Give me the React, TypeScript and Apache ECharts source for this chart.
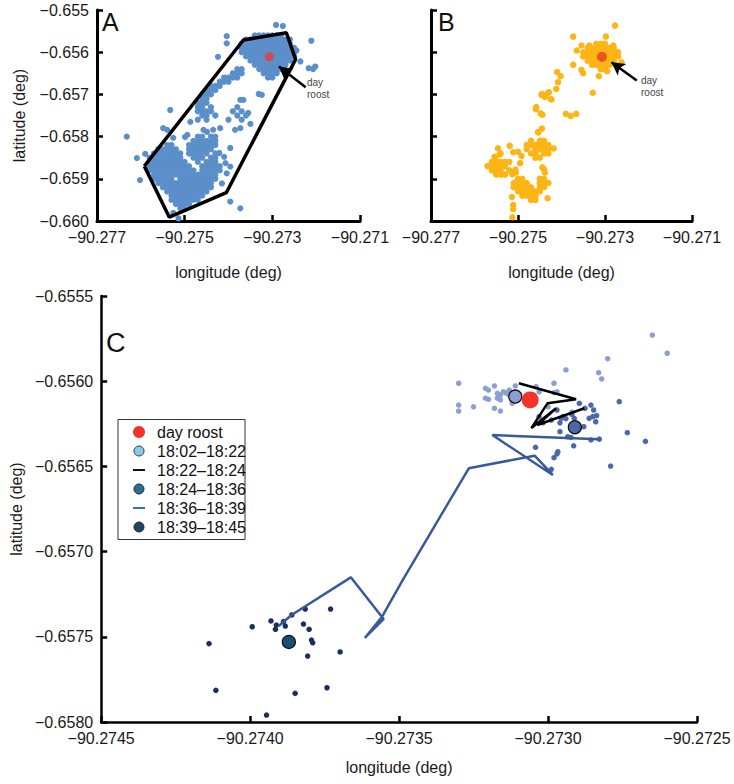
import React, { useEffect, useRef } from "react";
import * as echarts from "echarts";

const FONT = "'Liberation Sans', Arial, Helvetica, sans-serif";

// ---------- Panel A (all fixes) ----------
const aTopRows: [number, number[]][] = [
  [-0.6556, [-90.2734, -90.2733, -90.2732, -90.2731, -90.273, -90.2729, -90.2728]],
  [-0.6557, [-90.2736, -90.2735, -90.2734, -90.2733, -90.2732, -90.2731, -90.273, -90.2729, -90.2728, -90.2727, -90.2726]],
  [-0.6558, [-90.2737, -90.2736, -90.2735, -90.2734, -90.2733, -90.2732, -90.2731, -90.273, -90.2729, -90.2728, -90.2727, -90.2726]],
  [-0.6559, [-90.2737, -90.2736, -90.2735, -90.2734, -90.2733, -90.2732, -90.2731, -90.273, -90.2729, -90.2728, -90.2727, -90.2726, -90.2725]],
  [-0.656, [-90.2737, -90.2736, -90.2735, -90.2734, -90.2733, -90.2732, -90.2731, -90.273, -90.2729, -90.2728, -90.2727, -90.2726, -90.2725]],
  [-0.6561, [-90.2736, -90.2735, -90.2734, -90.2733, -90.2732, -90.2731, -90.273, -90.2729, -90.2728, -90.2727, -90.2726, -90.2725]],
  [-0.6562, [-90.2735, -90.2734, -90.2733, -90.2732, -90.2731, -90.273, -90.2729, -90.2728, -90.2727, -90.2726]],
  [-0.6563, [-90.2734, -90.2733, -90.2732, -90.2731, -90.273, -90.2729, -90.2728, -90.2727]],
  [-0.6564, [-90.2733, -90.2732, -90.2731, -90.273, -90.2729, -90.2728]],
  [-0.6565, [-90.2732, -90.2731, -90.273, -90.2729]],
  [-0.6566, [-90.2731, -90.273]],
];
const aBandRows: [number, number[]][] = [
  [-0.6564, [-90.2738, -90.2737]],
  [-0.6565, [-90.2739, -90.2738, -90.2737]],
  [-0.6566, [-90.2741, -90.274, -90.2739, -90.2738]],
  [-0.6567, [-90.2742, -90.2741, -90.274]],
  [-0.6568, [-90.2744, -90.2743, -90.2742]],
  [-0.6569, [-90.2745, -90.2744, -90.2743]],
  [-0.657, [-90.2746, -90.2745, -90.2744]],
  [-0.6571, [-90.2746, -90.2745]],
  [-0.6572, [-90.2747, -90.2746, -90.2745]],
  [-0.6573, [-90.2747, -90.2746, -90.2744]],
  [-0.6574, [-90.2747, -90.2746, -90.2745, -90.2744]],
  [-0.6575, [-90.2746, -90.2745, -90.2743]],
  [-0.6576, [-90.2747, -90.2745]],
];
const aLowRows: [number, number[]][] = [
  [-0.658, [-90.2747, -90.2746, -90.2744, -90.2743]],
  [-0.6581, [-90.2748, -90.2747, -90.2746, -90.2745, -90.2744, -90.2743]],
  [-0.6582, [-90.2754, -90.2753, -90.2749, -90.2748, -90.2747, -90.2746, -90.2745, -90.2744, -90.2743]],
  [-0.6583, [-90.2756, -90.2755, -90.2754, -90.2753, -90.2752, -90.2749, -90.2748, -90.2747, -90.2746, -90.2745, -90.2744]],
  [-0.6584, [-90.2757, -90.2756, -90.2755, -90.2754, -90.2753, -90.2752, -90.2751, -90.2749, -90.2748, -90.2747, -90.2746, -90.2745, -90.2743]],
  [-0.6585, [-90.2758, -90.2757, -90.2756, -90.2755, -90.2754, -90.2753, -90.2752, -90.2751, -90.2748, -90.2747, -90.2746, -90.2744, -90.2743]],
  [-0.6586, [-90.2758, -90.2757, -90.2756, -90.2755, -90.2754, -90.2753, -90.2752, -90.2751, -90.275, -90.2747, -90.2745, -90.2744, -90.2743]],
  [-0.6587, [-90.2758, -90.2757, -90.2756, -90.2755, -90.2754, -90.2753, -90.2752, -90.2751, -90.275, -90.2749, -90.2746, -90.2745, -90.2744, -90.2743, -90.2742]],
  [-0.6588, [-90.2758, -90.2757, -90.2756, -90.2755, -90.2754, -90.2753, -90.2752, -90.2751, -90.275, -90.2749, -90.2748, -90.2746, -90.2745, -90.2744, -90.2743, -90.2742]],
  [-0.6589, [-90.2757, -90.2756, -90.2755, -90.2754, -90.2753, -90.2752, -90.2751, -90.275, -90.2749, -90.2748, -90.2747, -90.2746, -90.2745, -90.2744, -90.2743]],
  [-0.659, [-90.2757, -90.2756, -90.2755, -90.2754, -90.2753, -90.2751, -90.275, -90.2749, -90.2748, -90.2747, -90.2746, -90.2745, -90.2744, -90.2743]],
  [-0.6591, [-90.2756, -90.2755, -90.2754, -90.2753, -90.2752, -90.2751, -90.275, -90.2749, -90.2748, -90.2747, -90.2746, -90.2745, -90.2744]],
  [-0.6592, [-90.2755, -90.2754, -90.2753, -90.2752, -90.2751, -90.275, -90.2749, -90.2748, -90.2747, -90.2746, -90.2745, -90.2744]],
  [-0.6593, [-90.2754, -90.2753, -90.2752, -90.2751, -90.275, -90.2749, -90.2748, -90.2747, -90.2746, -90.2745]],
  [-0.6594, [-90.2753, -90.2752, -90.2751, -90.275, -90.2749, -90.2748, -90.2747, -90.2746]],
  [-0.6595, [-90.2753, -90.2752, -90.2751, -90.275, -90.2749, -90.2748, -90.2747]],
  [-0.6596, [-90.2752, -90.2751, -90.275, -90.2749]],
  [-0.6597, [-90.2751, -90.275]],
];
const aScatter: number[][] = [
  [-90.272915, -0.655355], [-90.27276, -0.65538], [-90.27404, -0.65562], [-90.27404, -0.65579],
  [-90.27424, -0.65611], [-90.27211, -0.65573], [-90.27245, -0.65596], [-90.27236, -0.65622],
  [-90.27217, -0.65638], [-90.27207, -0.6564], [-90.27202, -0.65634], [-90.27331, -0.65699],
  [-90.27324, -0.65701], [-90.27366, -0.65713], [-90.27533, -0.65737], [-90.27373, -0.65713],
  [-90.2739, -0.6574], [-90.2738, -0.6573], [-90.2737, -0.6574], [-90.2736, -0.6575],
  [-90.2738, -0.6575], [-90.2737, -0.6576], [-90.2735, -0.6577], [-90.274, -0.6576],
  [-90.27355, -0.65744], [-90.27385, -0.65784], [-90.27373, -0.6578],
  [-90.27419, -0.6578], [-90.27435, -0.65784], [-90.27449, -0.65789], [-90.27457, -0.65784],
  [-90.27494, -0.65796], [-90.2754, -0.65784], [-90.27549, -0.6578], [-90.27487, -0.65765],
  [-90.27526, -0.65803], [-90.27499, -0.65801],
  [-90.27632, -0.658], [-90.27609, -0.65851], [-90.2759, -0.65841], [-90.27602, -0.65903],
  [-90.27396, -0.65954], [-90.27373, -0.6597], [-90.27514, -0.65994], [-90.27526, -0.65981],
  [-90.27415, -0.65911], [-90.27404, -0.65887], [-90.27396, -0.65871], [-90.2741, -0.65848],
  [-90.27396, -0.65827], [-90.27407, -0.65863], [-90.27421, -0.65839],
];
const aHullLon = [-90.27592, -90.27535, -90.27405, -90.27247, -90.27268, -90.27366, -90.27592];
const aHullLat = [-0.6587, -0.65991, -0.65933, -0.65617, -0.65554, -0.65571, -0.6587];
const roostLonLat = [-90.27307, -0.65611];
const aArrowFrom = [-90.27224, -0.65683];
const aArrowTo = [-90.27285, -0.65634];

// ---------- Panel B (18:02-18:45) ----------
const bTopRows: [number, number[]][] = [
  [-0.6558, [-90.2732, -90.2731, -90.273]],
  [-0.6559, [-90.2734, -90.2733, -90.2732, -90.2731, -90.273, -90.2729, -90.2728]],
  [-0.656, [-90.2735, -90.2734, -90.2733, -90.2732, -90.2731, -90.273, -90.2729, -90.2728, -90.2727]],
  [-0.6561, [-90.2735, -90.2734, -90.2733, -90.2732, -90.2731, -90.273, -90.2729, -90.2728, -90.2727]],
  [-0.6562, [-90.2734, -90.2733, -90.2732, -90.2731, -90.273, -90.2729, -90.2728]],
  [-0.6563, [-90.2733, -90.2732, -90.2731, -90.273, -90.2729]],
  [-0.6564, [-90.2731, -90.273]],
];
const bLowRows: [number, number[]][] = [
  [-0.6581, [-90.2747, -90.2745, -90.2744]],
  [-0.6582, [-90.2748, -90.2747, -90.2746, -90.2745, -90.2744, -90.2743]],
  [-0.6583, [-90.2748, -90.2746, -90.2745, -90.2744, -90.2743]],
  [-0.6584, [-90.2747, -90.2746, -90.2744, -90.2743]],
  [-0.6585, [-90.2746, -90.2745]],
  [-0.6586, [-90.2756, -90.2755, -90.2754, -90.2753, -90.2752]],
  [-0.6587, [-90.2757, -90.2756, -90.2755, -90.2754, -90.2753]],
  [-0.6588, [-90.2756, -90.2755, -90.2754, -90.2752]],
  [-0.6589, [-90.2755, -90.2754, -90.2753]],
  [-0.659, [-90.275, -90.2749, -90.2745, -90.2744]],
  [-0.6591, [-90.2751, -90.275, -90.2749, -90.2748, -90.2745, -90.2744, -90.2743]],
  [-0.6592, [-90.2751, -90.275, -90.2749, -90.2748, -90.2747, -90.2745, -90.2744]],
  [-0.6593, [-90.275, -90.2749, -90.2748, -90.2747, -90.2746, -90.2745]],
  [-0.6594, [-90.2749, -90.2748, -90.2747, -90.2746]],
  [-0.6595, [-90.2747, -90.2746]],
];
const bScatter: number[][] = [
  [-90.27277, -0.65537], [-90.27373, -0.65563], [-90.27298, -0.65563], [-90.27365, -0.65596],
  [-90.27354, -0.65584], [-90.27336, -0.65584], [-90.27281, -0.65584], [-90.27262, -0.65624],
  [-90.27373, -0.6563], [-90.27354, -0.65642], [-90.2735, -0.6565], [-90.27314, -0.65657],
  [-90.27295, -0.65645], [-90.27277, -0.65629], [-90.27328, -0.65696],
  [-90.2741, -0.65647], [-90.27402, -0.65657], [-90.27408, -0.65671], [-90.27412, -0.65687],
  [-90.27431, -0.65696], [-90.27446, -0.65701], [-90.27438, -0.65706], [-90.27423, -0.65712],
  [-90.27445, -0.65699], [-90.27429, -0.65695], [-90.27425, -0.65711], [-90.27458, -0.6573],
  [-90.27459, -0.65735], [-90.27444, -0.65748], [-90.2739, -0.65746], [-90.27379, -0.65751],
  [-90.27366, -0.65746], [-90.27445, -0.65781], [-90.27454, -0.65789], [-90.27448, -0.65745],
  [-90.27453, -0.6579], [-90.27418, -0.65828], [-90.27519, -0.65822], [-90.27511, -0.65837],
  [-90.2754, -0.6584], [-90.27552, -0.65849], [-90.27495, -0.65863], [-90.27444, -0.65873],
  [-90.2744, -0.65878], [-90.27438, -0.65885], [-90.27506, -0.65878], [-90.27505, -0.65885],
  [-90.27513, -0.65889], [-90.27432, -0.65946], [-90.27511, -0.65962], [-90.27511, -0.65972],
  [-90.27513, -0.65991], [-90.27514, -0.65943], [-90.27554, -0.65848], [-90.27542, -0.65842],
  [-90.27546, -0.65828], [-90.275, -0.65836], [-90.27492, -0.65846], [-90.27512, -0.65887],
];
const bArrowFrom = [-90.27227, -0.65667];
const bArrowTo = [-90.27285, -0.65624];

// ---------- Panel C ----------
const early: number[][] = [
  [-90.2733, -0.656012], [-90.2733, -0.65614], [-90.2733, -0.656175], [-90.27325, -0.65615],
  [-90.27321, -0.656042], [-90.2732, -0.656052], [-90.27318, -0.656028], [-90.2732, -0.656106],
  [-90.27318, -0.656159], [-90.27316, -0.656175], [-90.27317, -0.656071], [-90.27316, -0.656081],
  [-90.27315, -0.656062], [-90.27317, -0.6561], [-90.27316, -0.65611], [-90.27313, -0.656081],
  [-90.27313, -0.656052], [-90.27312, -0.65613], [-90.27311, -0.656028], [-90.27304, -0.656032],
  [-90.27303, -0.656062], [-90.27298, -0.656012], [-90.27298, -0.656067], [-90.27297, -0.656062],
  [-90.27294, -0.655934], [-90.27283, -0.65595], [-90.27282, -0.655987], [-90.2728, -0.655868],
  [-90.27265, -0.655729], [-90.2726, -0.655836], [-90.273, -0.65615], [-90.27292, -0.656181],
  [-90.27312, -0.65612], [-90.27314, -0.65607], [-90.27321, -0.6561],
];
const mid: number[][] = [
  [-90.272895, -0.65613], [-90.272876, -0.656159], [-90.272856, -0.65614], [-90.272847, -0.656169],
  [-90.272837, -0.656202], [-90.27284, -0.656238], [-90.27285, -0.656208], [-90.272862, -0.656218],
  [-90.272912, -0.656218], [-90.272956, -0.656218], [-90.27297, -0.656169], [-90.272989, -0.656228],
  [-90.27296, -0.656244], [-90.27295, -0.656208], [-90.273017, -0.656244], [-90.27303, -0.656208],
  [-90.27296, -0.656296], [-90.272934, -0.656326], [-90.272923, -0.65633], [-90.272856, -0.656345],
  [-90.272828, -0.65634], [-90.272914, -0.656379], [-90.273042, -0.656388], [-90.272967, -0.656414],
  [-90.27297, -0.656427], [-90.27298, -0.656449], [-90.272989, -0.656517], [-90.27279, -0.656498],
  [-90.272734, -0.656302], [-90.272673, -0.656353], [-90.272761, -0.65612], [-90.27288, -0.656267],
  [-90.27294, -0.65622], [-90.27292, -0.656195],
];
const late: number[][] = [
  [-90.27386, -0.657372], [-90.273815, -0.657337], [-90.27373, -0.657337], [-90.27393, -0.657407],
  [-90.273912, -0.657431], [-90.273915, -0.657456], [-90.273882, -0.657437], [-90.273888, -0.657411],
  [-90.273993, -0.657441], [-90.273821, -0.657425], [-90.273802, -0.657456], [-90.273794, -0.657519],
  [-90.27379, -0.657535], [-90.273807, -0.657613], [-90.273698, -0.657589], [-90.274138, -0.65754],
  [-90.274115, -0.657814], [-90.273849, -0.657832], [-90.273742, -0.657799], [-90.273945, -0.657959],
];
const flight1: number[][] = [
  [-90.273098, -0.656012], [-90.272906, -0.656106], [-90.273002, -0.65613], [-90.273056, -0.656275],
  [-90.272973, -0.656159], [-90.273036, -0.656257], [-90.272878, -0.656159],
];
const flight2: number[][] = [
  [-90.272828, -0.656341], [-90.273187, -0.656316], [-90.272984, -0.65655], [-90.273045, -0.656437],
  [-90.273266, -0.656511], [-90.273488, -0.657167], [-90.273558, -0.657384], [-90.273615, -0.657507],
  [-90.273552, -0.657396], [-90.273662, -0.657151], [-90.273861, -0.657372], [-90.273904, -0.657437],
];
const earlyCenter = [-90.27311, -0.65609];
const midCenter = [-90.27291, -0.65627];
const lateCenter = [-90.27387, -0.65753];
const roostC = [-90.27306, -0.65611];

const legendLabels = ["day roost", "18:02–18:22", "18:22–18:24", "18:24–18:36", "18:36–18:39", "18:39–18:45"];

const toPts = (rows: [number, number[]][]) => rows.flatMap(([lat, lons]) => lons.map((lon) => [lon, lat]));
const minus = (s: string) => s.replace("-", "\u2212");

function mkAxis(kind: "x" | "y", gi: number, min: number, max: number, interval: number, dig: number, name: string, nameGap: number, showLabel = true, lw = 3) {
  return {
    type: "value",
    gridIndex: gi,
    min, max, interval,
    name,
    nameLocation: "middle",
    nameGap,
    nameRotate: kind === "y" ? 90 : 0,
    nameTextStyle: { fontSize: 16, color: "#1a1a1a", fontFamily: FONT },
    axisLine: { show: true, onZero: false, lineStyle: { color: "#000", width: lw } },
    axisTick: { show: true, inside: true, length: 6, lineStyle: { color: "#000", width: 2.5 } },
    axisLabel: {
      show: showLabel, fontSize: 16, color: "#1a1a1a", margin: 8, fontFamily: FONT,
      showMinLabel: true, showMaxLabel: true,
      formatter: (v: number) => minus(v.toFixed(dig)),
    },
    splitLine: { show: false },
  };
}

export default function App() {
  const ref = useRef<HTMLDivElement>(null);
  useEffect(() => {
    if (!ref.current) return;
    const chart = echarts.init(ref.current, null, { renderer: "svg" });
    const aPts = [...toPts(aLowRows), ...toPts(aBandRows), ...toPts(aTopRows), ...aScatter];
    const bPts = [...toPts(bLowRows), ...toPts(bTopRows), ...bScatter];
    const hull = aHullLon.map((lon, i) => [lon, aHullLat[i]]);
    const arrowLine = (from: number[], to: number[]) => ({
      silent: true,
      symbol: ["none", "arrow"],
      symbolSize: [11, 13],
      label: { show: false },
      lineStyle: { color: "#000", width: 2.5, type: "solid" },
      data: [[{ coord: from }, { coord: to }]],
    });
    const legendRows = [432, 451, 470, 489, 508, 527];
    const mx = 139;
    const small = { fontSize: 10, fontFamily: FONT, fill: "#444", verticalAlign: "middle" };
    const graphic: any[] = [
      { type: "text", left: 102, top: 9, style: { text: "A", fontSize: 25, fontFamily: FONT, fill: "#111" } },
      { type: "text", left: 438, top: 9, style: { text: "B", fontSize: 25, fontFamily: FONT, fill: "#111" } },
      { type: "text", left: 106, top: 329, style: { text: "C", fontSize: 27, fontFamily: FONT, fill: "#111" } },
      { type: "text", x: 307, y: 82, style: { ...small, text: "day" } },
      { type: "text", x: 307, y: 94, style: { ...small, text: "roost" } },
      { type: "text", x: 641, y: 80, style: { ...small, text: "day" } },
      { type: "text", x: 641, y: 92, style: { ...small, text: "roost" } },
      { type: "rect", shape: { x: 118, y: 419.5, width: 127, height: 120 }, style: { fill: "#fff", stroke: "#333", lineWidth: 1 }, z: 100 },
      { type: "circle", shape: { cx: mx, cy: legendRows[0], r: 6 }, style: { fill: "#f5332a" }, z: 101 },
      { type: "circle", shape: { cx: mx, cy: legendRows[1], r: 5 }, style: { fill: "#87c9ea", stroke: "#333", lineWidth: 1 }, z: 101 },
      { type: "line", shape: { x1: mx - 6, y1: legendRows[2], x2: mx + 6, y2: legendRows[2] }, style: { stroke: "#111", lineWidth: 2 }, z: 101 },
      { type: "circle", shape: { cx: mx, cy: legendRows[3], r: 5 }, style: { fill: "#2a6e95", stroke: "#222", lineWidth: 1 }, z: 101 },
      { type: "line", shape: { x1: mx - 6, y1: legendRows[4], x2: mx + 6, y2: legendRows[4] }, style: { stroke: "#2d78a0", lineWidth: 2 }, z: 101 },
      { type: "circle", shape: { cx: mx, cy: legendRows[5], r: 5 }, style: { fill: "#174866", stroke: "#222", lineWidth: 1 }, z: 101 },
      ...legendLabels.map((t, i) => ({
        type: "text", x: 157, y: legendRows[i], z: 101,
        style: { text: t, fontSize: 16, fontFamily: FONT, fill: "#111", verticalAlign: "middle" },
      })),
    ];
    chart.setOption({
      animation: false,
      backgroundColor: "#fff",
      textStyle: { fontFamily: FONT },
      grid: [
        { left: 97, top: 10, width: 263, height: 211 },
        { left: 431, top: 10, width: 261, height: 211 },
        { left: 96, top: 296, width: 601, height: 426 },
      ],
      xAxis: [
        mkAxis("x", 0, -90.277, -90.271, 0.002, 3, "longitude (deg)", 43),
        mkAxis("x", 1, -90.277, -90.271, 0.002, 3, "longitude (deg)", 43),
        mkAxis("x", 2, -90.2745, -90.2725, 0.0005, 4, "longitude (deg)", 37, true, 2.5),
      ],
      yAxis: [
        mkAxis("y", 0, -0.66, -0.655, 0.001, 3, "latitude (deg)", 70),
        mkAxis("y", 1, -0.66, -0.655, 0.001, 3, "", 70, false),
        mkAxis("y", 2, -0.658, -0.6555, 0.0005, 4, "latitude (deg)", 70, true, 2.5),
      ],
      series: [
        { type: "scatter", xAxisIndex: 0, yAxisIndex: 0, data: aPts, symbolSize: 6.2, itemStyle: { color: "#5b8fca", opacity: 1 } },
        { type: "line", xAxisIndex: 0, yAxisIndex: 0, data: hull, symbol: "none", lineStyle: { color: "#000", width: 3.5 }, z: 3 },
        { type: "scatter", xAxisIndex: 0, yAxisIndex: 0, data: [roostLonLat], symbolSize: 9, itemStyle: { color: "#ee3a2d" }, z: 4, markLine: arrowLine(aArrowFrom, aArrowTo) },
        { type: "scatter", xAxisIndex: 1, yAxisIndex: 1, data: bPts, symbolSize: 6.5, itemStyle: { color: "#fdb515", opacity: 1 } },
        { type: "scatter", xAxisIndex: 1, yAxisIndex: 1, data: [roostLonLat], symbolSize: 10, itemStyle: { color: "#e63c2a" }, z: 4, markLine: arrowLine(bArrowFrom, bArrowTo) },
        { type: "scatter", xAxisIndex: 2, yAxisIndex: 2, data: early, symbolSize: 5.5, itemStyle: { color: "#8b9fd3", opacity: 1 } },
        { type: "scatter", xAxisIndex: 2, yAxisIndex: 2, data: mid, symbolSize: 5.5, itemStyle: { color: "#4c68aa", opacity: 1 } },
        { type: "scatter", xAxisIndex: 2, yAxisIndex: 2, data: late, symbolSize: 5.5, itemStyle: { color: "#1b2e5c", opacity: 1 } },
        { type: "line", xAxisIndex: 2, yAxisIndex: 2, data: flight1, symbol: "none", lineStyle: { color: "#000", width: 2.5 }, z: 3 },
        { type: "line", xAxisIndex: 2, yAxisIndex: 2, data: flight2, symbol: "none", lineStyle: { color: "#385a9c", width: 2.5 }, z: 3 },
        { type: "scatter", xAxisIndex: 2, yAxisIndex: 2, data: [earlyCenter], symbolSize: 13, itemStyle: { color: "#8c9fd2", borderColor: "#111", borderWidth: 1.3, opacity: 1 }, z: 4 },
        { type: "scatter", xAxisIndex: 2, yAxisIndex: 2, data: [midCenter], symbolSize: 13, itemStyle: { color: "#4d67a6", borderColor: "#111", borderWidth: 1.3, opacity: 1 }, z: 4 },
        { type: "scatter", xAxisIndex: 2, yAxisIndex: 2, data: [lateCenter], symbolSize: 13, itemStyle: { color: "#1d4e72", borderColor: "#111", borderWidth: 1.3, opacity: 1 }, z: 4 },
        { type: "scatter", xAxisIndex: 2, yAxisIndex: 2, data: [roostC], symbolSize: 17, itemStyle: { color: "#f5332a", opacity: 1 }, z: 5 },
      ],
      graphic,
    });
    return () => chart.dispose();
  }, []);
  return <div ref={ref} style={{ position: "fixed", left: 0, top: 0, width: 734, height: 784 }} />;
}
